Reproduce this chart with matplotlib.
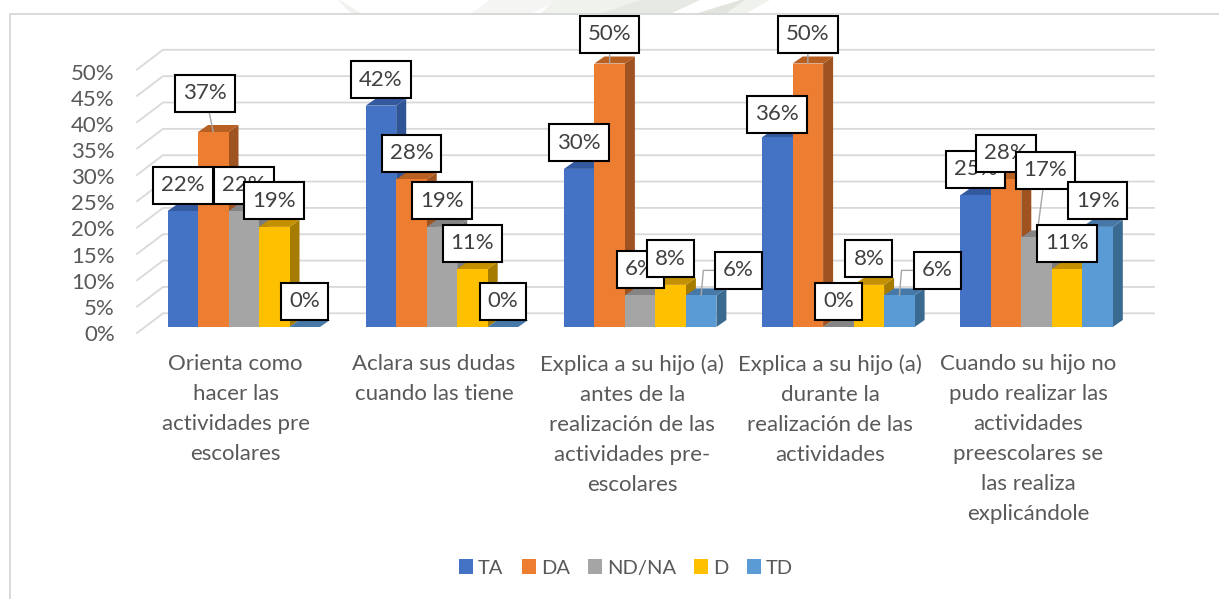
import matplotlib
matplotlib.use("Agg")
import matplotlib.pyplot as plt
from matplotlib.lines import Line2D
from matplotlib.patches import Polygon
from matplotlib.path import Path
import numpy as np

plt.rcParams['font.family'] = ['Lato', 'DejaVu Sans']

categories = [
    "Orienta como\nhacer las\nactividades pre\nescolares",
    "Aclara sus dudas\ncuando las tiene",
    "Explica a su hijo (a)\nantes de la\nrealización de las\nactividades pre-\nescolares",
    "Explica a su hijo (a)\ndurante la\nrealización de las\nactividades",
    "Cuando su hijo no\npudo realizar las\nactividades\npreescolares se\nlas realiza\nexplicándole",
]
series = ["TA", "DA", "ND/NA", "D", "TD"]
ta = [22, 42, 30, 36, 25]
da = [37, 28, 50, 50, 28]
nd_na = [22, 19, 6, 0, 17]
d = [19, 11, 8, 8, 11]
td = [0, 0, 6, 6, 19]
y_ticks = [0, 5, 10, 15, 20, 25, 30, 35, 40, 45, 50]

W, H = 1219, 599

front = ['#4472C4', '#ED7D31', '#A5A5A5', '#FFC000', '#5B9BD5']
side = ['#2F5597', '#9E5320', '#7C7C7C', '#A67C00', '#3B6A91']
top = ['#335A9E', '#B85F22', '#858585', '#C49000', '#4679A8']
text_col = '#595959'
font_size = 16

# pixel calibration of the picture
px_group = 198.2
px_unit = 5.27
x0_px = 243.75   # centre of first group
y0_px = 327.0    # baseline of the front of the bars
bar_w = 30.5 / px_group
depth_x = 10 / px_group
depth_y = 7 / px_unit

fig = plt.figure(figsize=(W / 100, H / 100), dpi=100, facecolor='white')
ax = fig.add_axes([0, 0, 1, 1])
ax.set_xlim(-x0_px / px_group, (W - x0_px) / px_group)
ax.set_ylim((y0_px - H) / px_unit, y0_px / px_unit)
ax.axis('off')


def dx(px):
    return px / px_group


def dv(px):
    return px / px_unit


def label_box(x0, y0, width, height, mutation_size):
    # fixed height box, all the data labels in the chart are 37 px tall
    cy = y0 + height / 2
    l, r = x0 - 8, x0 + width + 8
    b, t = cy - 18.5, cy + 18.5
    return Path([(l, b), (r, b), (r, t), (l, t), (l, b)],
                [Path.MOVETO, Path.LINETO, Path.LINETO, Path.LINETO, Path.CLOSEPOLY])


# faint watermark that shows above the chart frame
for pts, c in [
    ([(340, 0), (362, 14), (352, 14), (338, 0)], '#F0F2EE'),
    ([(470, 14), (490, 0), (560, 0), (530, 14)], '#F5F6F3'),
    ([(540, 14), (555, 0), (640, 0), (610, 14)], '#F0F2EE'),
    ([(600, 14), (640, 0), (700, 0), (670, 14)], '#E6E9E3'),
    ([(695, 14), (740, 0), (760, 0), (725, 14)], '#E1E5DE'),
    ([(725, 14), (745, 0), (770, 0), (745, 14)], '#F0F2EE'),
]:
    fig.add_artist(Polygon([(x, H - y) for x, y in pts], closed=True, facecolor=c,
                           edgecolor='none', transform=None, zorder=0))

# chart frame, only top and left are in the crop
fig.add_artist(Line2D([10, 10], [0, H - 14], color='#D9D9D9', lw=1.4, transform=None, zorder=1))
fig.add_artist(Line2D([10, W], [H - 14, H - 14], color='#D9D9D9', lw=1.4, transform=None, zorder=1))

# back wall grid
wall_left = dx(163 - x0_px)
wall_right = dx(1154 - x0_px)
floor_left = dx(137 - x0_px)
for v in y_ticks:
    ax.plot([floor_left, wall_left, wall_right], [v + dv(-6), v + dv(13.7), v + dv(13.7)],
            color='#D9D9D9', lw=1.3, zorder=1, solid_joinstyle='miter')

# y axis labels on their own axes, they are not spaced quite like the grid
ax_y = fig.add_axes([137 / W, (H - 333) / H, 20 / W, 261.5 / H], facecolor='none')
ax_y.set_ylim(0, 50)
ax_y.set_yticks(y_ticks)
ax_y.set_yticklabels([str(v) + '%' for v in y_ticks], color=text_col, fontsize=font_size)
ax_y.tick_params(axis='y', length=0, pad=16)
ax_y.set_xticks([])
for s in ax_y.spines.values():
    s.set_visible(False)

# bars
values = [ta, da, nd_na, d, td]
xs = np.arange(len(categories))
handles = []
for k in range(5):
    pos = xs + (k - 2) * bar_w
    z = 3 + k * 0.1
    b = ax.bar(pos, values[k], bar_w, color=front[k], linewidth=0, zorder=z + 0.02, label=series[k])
    handles.append(b)
    for p, v in zip(pos, values[k]):
        r = p + bar_w / 2
        l = p - bar_w / 2
        ax.add_patch(Polygon([(r, 0), (r + depth_x, depth_y), (r + depth_x, v + depth_y), (r, v)],
                             closed=True, facecolor=side[k], edgecolor='none', zorder=z))
        ax.add_patch(Polygon([(l, v), (r, v), (r + depth_x, v + depth_y), (l + depth_x, v + depth_y)],
                             closed=True, facecolor=top[k], edgecolor='none', zorder=z + 0.01))

# label offsets from the bar top, in pixels. (series, group): (x, y)
label_shift = {
    (1, 0): (-8, 39),
    (1, 2): (0, 29.5),
    (1, 3): (0, 29.5),
    (4, 2): (37, 25),
    (4, 3): (38, 25),
    (2, 4): (9, 67),
    (0, 3): (0, 23),
}
order = [(k, g) for g in range(5) for k in range(5)]
for n, (k, g) in enumerate(order):
    v = values[k][g]
    p = g + (k - 2) * bar_w
    sx, sy = label_shift.get((k, g), (0, 26))
    arrow = None
    if (k, g) in label_shift and (k, g) != (0, 3):
        if k == 4:
            arrow = dict(arrowstyle='-', color='#A6A6A6', lw=1, shrinkA=0, shrinkB=0,
                         connectionstyle='angle,angleA=180,angleB=85,rad=0')
        else:
            arrow = dict(arrowstyle='-', color='#A6A6A6', lw=1, shrinkA=0, shrinkB=0)
    ax.annotate(str(v) + '%', xy=(p, v), xytext=(sx, sy), textcoords='offset pixels',
                ha='center', va='center', fontsize=font_size, color='#404040', zorder=10 + n * 0.01,
                arrowprops=arrow, annotation_clip=False,
                bbox=dict(boxstyle=label_box, facecolor='white', edgecolor='black', lw=1.5))

# category labels
for g, lab in enumerate(categories):
    ax.text(g + dx(-8), dv(-27), lab, ha='center', va='top', fontsize=font_size, color=text_col,
            linespacing=1.63, zorder=5)

leg = ax.legend(handles=[h[0] for h in handles], labels=series, ncol=5, frameon=False,
                loc='center', bbox_to_anchor=(626 / W, (H - 568) / H), bbox_transform=fig.transFigure,
                fontsize=14.5, handlelength=0.7, handleheight=0.7, handletextpad=0.25,
                columnspacing=0.9, labelcolor=text_col)

fig.savefig('out.png', dpi=100, facecolor='white')
